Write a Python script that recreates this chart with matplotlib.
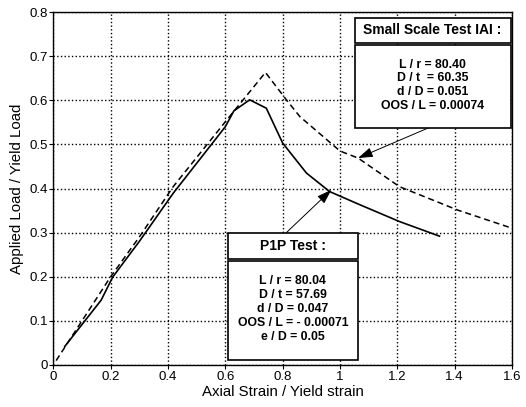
import matplotlib
matplotlib.use('Agg')
import matplotlib.pyplot as plt
from matplotlib.patches import Rectangle
from matplotlib.ticker import FuncFormatter

plt.rcParams['font.family'] = ['Liberation Sans', 'DejaVu Sans']

# P1P test (solid)
p1p_x = [0.04, 0.167, 0.207, 0.30, 0.418, 0.600, 0.630, 0.685, 0.743, 0.80, 0.883, 0.964, 1.07, 1.208, 1.347]
p1p_y = [0.042, 0.147, 0.199, 0.28, 0.389, 0.540, 0.576, 0.601, 0.582, 0.503, 0.435, 0.393, 0.363, 0.325, 0.292]

# Small scale test IAI (dashed)
ss_x = [0.01, 0.05, 0.2, 0.3, 0.418, 0.606, 0.74, 0.813, 0.86, 1.0, 1.063, 1.208, 1.411, 1.6]
ss_y = [0.01, 0.05, 0.2, 0.29, 0.404, 0.556, 0.663, 0.601, 0.563, 0.485, 0.469, 0.404, 0.351, 0.31]

x_ticks = [0, 0.2, 0.4, 0.6, 0.8, 1.0, 1.2, 1.4, 1.6]
y_ticks = [0, 0.1, 0.2, 0.3, 0.4, 0.5, 0.6, 0.7, 0.8]

ss_title = 'Small Scale Test IAI :'
ss_lines = ['L / r = 80.40', 'D / t  = 60.35', 'd / D = 0.051', 'OOS / L = 0.00074']
p1p_title = 'P1P Test :'
p1p_lines = ['L / r = 80.04', 'D / t = 57.69', 'd / D = 0.047', 'OOS / L = - 0.00071', 'e / D = 0.05']

fig = plt.figure(figsize=(5.26, 4.07), dpi=100)
ax = fig.add_axes([0.1013, 0.1032, 0.8721, 0.8673])

ax.plot(ss_x, ss_y, color='black', lw=1.1, ls=(0, (4, 2.5)), zorder=3)
ax.plot(p1p_x, p1p_y, color='black', lw=1.2, zorder=3)

ax.set_xlim(0, 1.6)
ax.set_ylim(0, 0.8)
ax.set_xticks(x_ticks)
ax.set_yticks(y_ticks)
fmt = FuncFormatter(lambda v, p: '%g' % round(v, 2))
ax.xaxis.set_major_formatter(fmt)
ax.yaxis.set_major_formatter(fmt)
ax.tick_params(direction='out', length=3, labelsize=9.5, pad=1)
ax.xaxis.grid(True, color='black', linestyle=':', linewidth=1.0, zorder=1)
ax.yaxis.grid(True, color='black', linestyle=':', linewidth=1.0, zorder=1)
for s in ax.spines.values():
    s.set_linewidth(1.0)

ax.set_xlabel('Axial Strain / Yield strain', fontsize=10.8, labelpad=2)
ax.set_ylabel('Applied Load / Yield Load', fontsize=10.8, labelpad=4)


def info_box(x0, x1, y_top, y_mid, y_bot, title, lines):
    ax.add_patch(Rectangle((x0, y_mid), x1 - x0, y_top - y_mid, facecolor='white',
                           edgecolor='black', lw=1.2, zorder=5))
    ax.add_patch(Rectangle((x0, y_bot), x1 - x0, y_mid - 0.005 - y_bot, facecolor='white',
                           edgecolor='black', lw=1.2, zorder=5))
    ax.text((x0 + x1) / 2, (y_top + y_mid) / 2, title, ha='center', va='center',
            fontsize=10, fontweight='bold', zorder=6)
    ax.text((x0 + x1) / 2, (y_mid + y_bot) / 2, '\n'.join(lines), ha='center', va='center',
            fontsize=8.8, fontweight='bold', linespacing=1.22, zorder=6)


info_box(1.051, 1.595, 0.787, 0.730, 0.537, ss_title, ss_lines)
info_box(0.609, 1.062, 0.299, 0.240, 0.012, p1p_title, p1p_lines)

arrow = dict(arrowstyle='-|>,head_length=0.9,head_width=0.3', color='black', lw=0.7,
             shrinkA=0, shrinkB=0)
ax.annotate('', xy=(1.063, 0.469), xytext=(1.307, 0.537), arrowprops=arrow, zorder=4)
ax.annotate('', xy=(0.97, 0.397), xytext=(0.813, 0.30), arrowprops=arrow, zorder=4)

fig.savefig('out.png', dpi=100)
